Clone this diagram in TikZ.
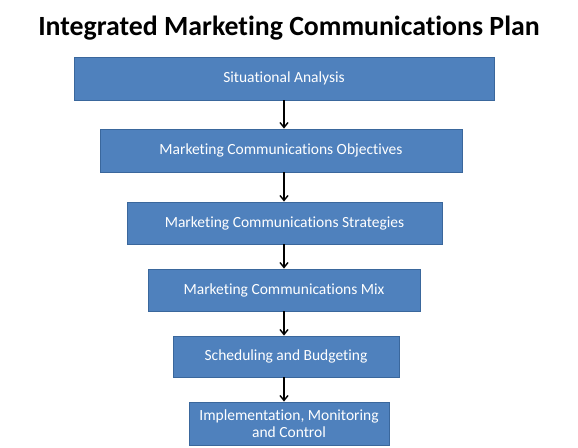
\documentclass[tikz,border=0pt]{standalone}
\usepackage{fontspec}
\setmainfont{Carlito}[Ligatures=NoCommon]
\usetikzlibrary{arrows.meta}
\definecolor{planblue}{HTML}{4F81BD}
\definecolor{planedge}{HTML}{3A679C}

\begin{document}
\begin{tikzpicture}[x=1pt,y=-1pt,
    planbox/.style={draw=planedge,fill=planblue,line width=0.8pt,text=white,
      font=\fontsize{15.5}{17.5}\selectfont,inner sep=0pt,align=center},
    flow/.style={line width=1.4pt,-{Straight Barb[length=5pt,width=8pt]}}]
  \useasboundingbox (0,0) rectangle (578,447);
  \node[font=\bfseries\fontsize{27.8}{32}\selectfont] (title) at (289,28)
    {Integrated Marketing Communications Plan};
  \coordinate (axis) at (284,0);
  \node[planbox,minimum width=420pt,minimum height=43pt] (s1) at (284,78.5) {Situational Analysis};
  \node[planbox,minimum width=362pt,minimum height=43pt] (s2) at (281,150.5) {Marketing Communications Objectives};
  \node[planbox,minimum width=315pt,minimum height=42pt] (s3) at (284.5,223) {Marketing Communications Strategies};
  \node[planbox,minimum width=272pt,minimum height=42pt] (s4) at (284,290) {Marketing Communications Mix};
  \node[planbox,minimum width=226pt,minimum height=41pt] (s5) at (286,356.5) {Scheduling and Budgeting};
  \node[planbox,minimum width=200pt,minimum height=43pt] (s6) at (289,423.5)
    {Implementation, Monitoring\\and Control};
  \foreach \a/\b in {s1/s2,s2/s3,s3/s4,s4/s5,s5/s6}
    \draw[flow] (axis |- \a.south) -- (axis |- \b.north);
\end{tikzpicture}
\end{document}
